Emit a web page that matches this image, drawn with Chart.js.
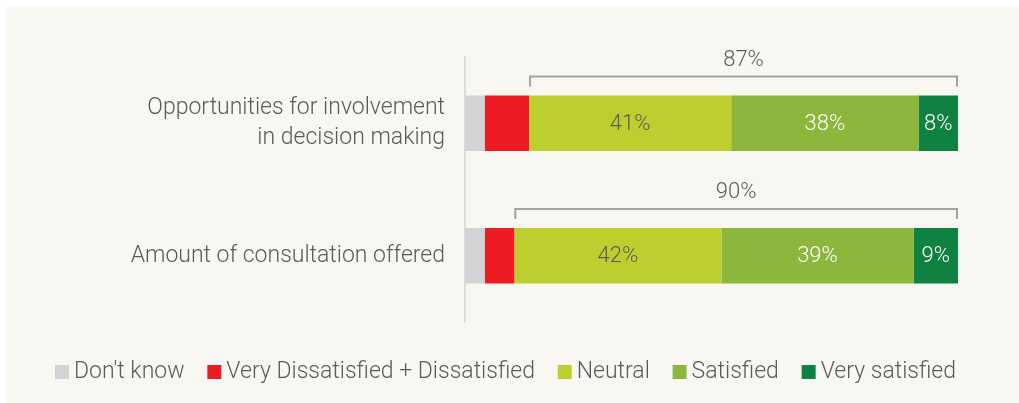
<!DOCTYPE html>
<html>
<head>
<meta charset="utf-8">
<script src="https://cdn.jsdelivr.net/npm/chart.js@4"></script>
<style>
  html, body { margin: 0; padding: 0; background: #fff; }
  #panel { position: absolute; left: 6px; top: 7px; width: 1013px; height: 396px; background: #f8f7f2; }
  #wrap { position: absolute; left: 0; top: 0; width: 1019px; height: 403px; }
</style>
</head>
<body>
<div id="panel"></div>
<div id="wrap"><canvas id="satChart" width="1019" height="403"></canvas></div>
<script>
const categories = [
  ['Opportunities for involvement', 'in decision making'],
  'Amount of consultation offered'
];
const seriesNames = ["Don't know", 'Very Dissatisfied + Dissatisfied', 'Neutral', 'Satisfied', 'Very satisfied'];
const dontKnow = [4, 4];
const dissatisfied = [9, 6];
const neutral = [41, 42];
const satisfied = [38, 39];
const verySatisfied = [8, 9];
const satisfiedTotals = [87, 90];

const colors = ['#d1d3d4', '#ed1c24', '#bccf2f', '#8cb63c', '#0f8140'];
const labelColors = [null, null, '#5b5b5b', '#ffffff', '#ffffff'];
const fontFamily = 'Roboto, "Open Sans", sans-serif';
const textGrey = '#5b5b5b';

const values = [dontKnow, dissatisfied, neutral, satisfied, verySatisfied];

// labels inside segments + bracket with total above each bar
const annotate = {
  id: 'annotate',
  afterDatasetsDraw(chart) {
    const ctx = chart.ctx;
    ctx.save();
    ctx.textAlign = 'center';
    ctx.textBaseline = 'middle';
    ctx.font = '300 22px ' + fontFamily;
    chart.data.datasets.forEach((ds, i) => {
      if (!labelColors[i]) return;
      chart.getDatasetMeta(i).data.forEach((bar, j) => {
        ctx.fillStyle = labelColors[i];
        ctx.fillText(ds.data[j] + '%', (bar.base + bar.x) / 2, bar.y + 1);
      });
    });
    const startMeta = chart.getDatasetMeta(2);
    const endMeta = chart.getDatasetMeta(4);
    startMeta.data.forEach((bar, j) => {
      const x0 = bar.base + 1;
      const x1 = endMeta.data[j].x - 1;
      const top = bar.y - bar.height / 2;
      const yLine = top - 19;
      ctx.strokeStyle = '#a3a3a3';
      ctx.lineWidth = 2;
      ctx.beginPath();
      ctx.moveTo(x0, yLine + 10);
      ctx.lineTo(x0, yLine);
      ctx.lineTo(x1, yLine);
      ctx.lineTo(x1, yLine + 10);
      ctx.stroke();
      ctx.fillStyle = textGrey;
      ctx.fillText(satisfiedTotals[j] + '%', (x0 + x1) / 2, yLine - 16);
    });
    ctx.restore();
  }
};

// legend row along the bottom
const legendRow = {
  id: 'legendRow',
  afterDraw(chart) {
    const ctx = chart.ctx;
    ctx.save();
    ctx.font = '300 23px ' + fontFamily;
    ctx.textBaseline = 'middle';
    ctx.textAlign = 'left';
    const ds = chart.data.datasets;
    const widths = ds.map(d => 14 + 5 + ctx.measureText(d.label).width);
    const left = 55, right = 956;
    const gap = (right - left - widths.reduce((a, b) => a + b, 0)) / (ds.length - 1);
    let x = left;
    const y = 372;
    ds.forEach((d, i) => {
      ctx.fillStyle = d.backgroundColor;
      ctx.fillRect(x, y - 7, 14, 14);
      ctx.fillStyle = textGrey;
      ctx.fillText(d.label, x + 19, y);
      x += widths[i] + gap;
    });
    ctx.restore();
  }
};

new Chart(document.getElementById('satChart').getContext('2d'), {
  type: 'bar',
  data: {
    labels: categories,
    datasets: seriesNames.map((name, i) => ({
      label: name,
      data: values[i],
      backgroundColor: colors[i],
      borderWidth: 0,
      barPercentage: 0.42,
      categoryPercentage: 1
    }))
  },
  options: {
    indexAxis: 'y',
    responsive: false,
    animation: false,
    layout: { padding: { left: 0, right: 61, top: 57, bottom: 81 } },
    scales: {
      x: { stacked: true, min: 0, max: 100, display: false },
      y: {
        stacked: true,
        grid: { display: false, drawTicks: false },
        border: { display: true, color: '#dcdcda', width: 2 },
        ticks: {
          color: textGrey,
          padding: 20,
          font: { family: fontFamily, size: 23, weight: '300', lineHeight: 1.3 }
        },
        afterFit(scale) { scale.width = 465; }
      }
    },
    plugins: {
      legend: { display: false },
      tooltip: { enabled: false }
    }
  },
  plugins: [annotate, legendRow]
});
</script>
</body>
</html>
